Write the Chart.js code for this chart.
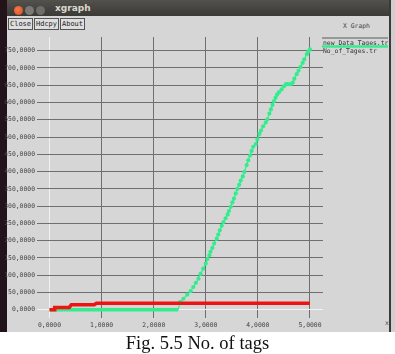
<!DOCTYPE html>
<html>
<head>
<meta charset="utf-8">
<script src="https://cdn.jsdelivr.net/npm/chart.js@4.4.0/dist/chart.umd.min.js"></script>
<style>
  html, body { margin:0; padding:0; background:#ffffff; width:395px; height:354px; overflow:hidden; }
  #win { position:absolute; left:7px; top:0; width:382px; height:332px; background:#d6d6d6; }
  #titlebar { position:absolute; left:7px; top:0; width:382px; height:16px; background:linear-gradient(#52514c,#3b3a36); }
  #lstrip { position:absolute; left:0; top:0; width:7px; height:332px; background:#22131b; }
  #rstrip { position:absolute; left:389px; top:0; width:6px; height:332px; background:linear-gradient(90deg,#3a3a3a 0,#3a3a3a 2px,#cfcfcf 2px); }
  .dot { position:absolute; width:9px; height:9px; border-radius:50%; top:6px; }
  #ttl { position:absolute; left:55px; top:3px; font:bold 9px "DejaVu Sans", sans-serif; color:#dcd8cf; }
  .btn { position:absolute; top:18px; height:10px; border:1px solid #555; background:#dedede; font:7px "DejaVu Sans Mono", monospace; color:#222; line-height:10px; text-align:center; }
  .lbl { position:absolute; font:6.4px "DejaVu Sans Mono", monospace; color:#444; white-space:nowrap; }
  #cap { position:absolute; left:0; width:395px; top:333px; text-align:center; font:18.5px "Liberation Serif", "Times New Roman", serif; color:#111; line-height:20px; }
  canvas { position:absolute; left:0; top:0; }
</style>
</head>
<body>
<div id="win"></div>
<div id="titlebar"></div>
<div id="lstrip"></div>
<div id="rstrip"></div>
<div class="dot" style="left:14px;background:radial-gradient(circle at 40% 40%,#f47a4a,#d94a1c);"></div>
<div class="dot" style="left:25px;background:#7a7974;"></div>
<div class="dot" style="left:36px;background:#6e6d69;border:0;"></div>
<div id="ttl">xgraph</div>
<div class="btn" style="left:8px;width:23px;">Close</div>
<div class="btn" style="left:34px;width:23px;">Hdcpy</div>
<div class="btn" style="left:60px;width:23px;">About</div>
<div class="lbl" style="left:343px;top:22px;">X Graph</div>
<div class="lbl" style="left:385px;top:319px;">x</div>
<canvas id="c" width="395" height="354"></canvas>
<div id="cap">Fig. 5.5 No. of tags</div>
<script>
// ---- data ----
const seriesNames = ["new_Data_Tages.tr", "No_of_Tages.tr"];
const xTicks = [0, 1, 2, 3, 4, 5];
const yTicks = [0,50,100,150,200,250,300,350,400,450,500,550,600,650,700,750];

const newDataX = [0, 0.1, 0.1, 0.38, 0.42, 0.86, 0.9, 5.0];
const newDataY = [0, 0, 7, 7, 15, 15, 19, 19];

const tagsX = [0, 2.47, 2.505, 2.57, 2.645, 2.71, 2.76, 2.81, 2.86, 2.90, 2.95, 3.00, 3.03, 3.07, 3.09, 3.125, 3.16, 3.21, 3.24, 3.27, 3.305, 3.34, 3.38, 3.42, 3.445, 3.48, 3.51, 3.54, 3.575, 3.605, 3.64, 3.67, 3.71, 3.74, 3.785, 3.815, 3.85, 3.88, 3.91, 3.96, 3.99, 4.03, 4.06, 4.10, 4.15, 4.18, 4.22, 4.25, 4.28, 4.31, 4.34, 4.37, 4.405, 4.455, 4.50, 4.54, 4.58, 4.63, 4.67, 4.70, 4.745, 4.78, 4.82, 4.86, 4.89, 4.94, 4.97, 5.00];
const tagsY = [0, 0, 22, 32, 44, 54, 66, 78, 90, 104, 119, 134, 147, 158, 168, 179, 192, 206, 218, 230, 243, 254, 265, 276, 286, 298, 311, 322, 337, 350, 362, 374, 386, 399, 419, 433, 447, 460, 472, 480, 493, 509, 519, 531, 542, 551, 568, 580, 593, 604, 614, 623, 630, 638, 647, 653, 653, 653, 658, 669, 682, 692, 703, 715, 725, 740, 748, 754];

// ---- chart ----
const RED = "#ee1414", GREEN = "#34ec8e", GRID = "#6f6f6f", ZERO = "#f2f2f2";
const pts = (xs, ys) => xs.map((x, i) => ({ x: x, y: ys[i] }));
const fmt = v => Number(v).toFixed(4).replace(".", ",");

const legendPlugin = {
  id: "xgLegend",
  afterDraw(chart) {
    const c = chart.ctx;
    c.save();
    chart.data.datasets.forEach((ds, i) => {
      const ly = 38 + i * 8.5;
      c.strokeStyle = ds.legendColor;
      c.lineWidth = ds.legendWidth;
      c.beginPath(); c.moveTo(322, ly); c.lineTo(388, ly); c.stroke();
      c.fillStyle = "#333";
      c.font = '6.4px "DejaVu Sans Mono", monospace';
      c.textBaseline = "alphabetic";
      c.fillText(ds.label, 323, ly + 6.5);
    });
    c.restore();
  }
};

new Chart(document.getElementById("c"), {
  type: "line",
  data: {
    datasets: [
      { label: seriesNames[0], data: pts(newDataX, newDataY), borderColor: RED, borderWidth: 3.5,
        pointRadius: 0, tension: 0, legendColor: "#5a5a5a", legendWidth: 1 },
      { label: seriesNames[1], data: pts(tagsX, tagsY), borderColor: GREEN, backgroundColor: GREEN,
        borderWidth: 1.2, tension: 0, legendColor: GREEN, legendWidth: 2.5,
        pointRadius: ctx => (ctx.raw && ctx.raw.y === 0) ? 0 : 2.1, pointBorderWidth: 0,
        segment: { borderWidth: ctx => (ctx.p0.parsed.y === 0 && ctx.p1.parsed.y === 0) ? 3.5 : 1.2 } }
    ]
  },
  options: {
    responsive: false, animation: false, devicePixelRatio: 1,
    layout: { padding: { left: 0, right: 72, top: 37, bottom: 0 } },
    plugins: { legend: { display: false }, tooltip: { enabled: false } },
    scales: {
      x: {
        type: "linear", min: -0.24, max: 5.25,
        afterBuildTicks: s => { s.ticks = xTicks.map(v => ({ value: v })); },
        afterFit: s => { s.height = 36; },
        border: { display: false },
        grid: { drawTicks: false, color: ctx => (ctx.tick && ctx.tick.value === 0) ? ZERO : GRID, lineWidth: 1 },
        ticks: { padding: 4, color: "#444", font: { family: "DejaVu Sans Mono", size: 6.4 }, callback: v => fmt(v), maxRotation: 0, autoSkip: false }
      },
      y: {
        type: "linear", min: -23.7, max: 789.7,
        afterBuildTicks: s => { s.ticks = yTicks.map(v => ({ value: v })); },
        afterFit: s => { s.width = 37; },
        border: { display: false },
        grid: { drawTicks: false, color: ctx => (ctx.tick && ctx.tick.value === 0) ? ZERO : GRID, lineWidth: 1 },
        ticks: { padding: 2, color: "#444", font: { family: "DejaVu Sans Mono", size: 6.4 }, callback: v => fmt(v), autoSkip: false }
      }
    }
  },
  plugins: [legendPlugin]
});
</script>
</body>
</html>
